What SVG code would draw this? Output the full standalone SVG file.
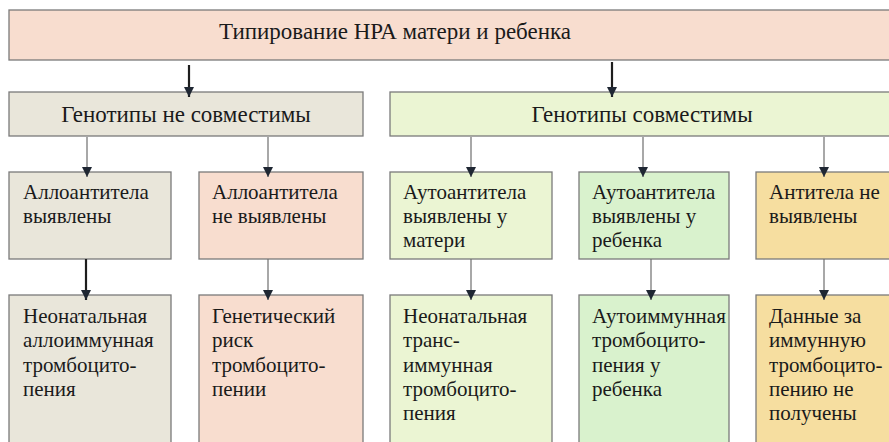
<svg xmlns="http://www.w3.org/2000/svg" width="889" height="442" viewBox="0 0 889 442">
<style>
  .box{stroke:#7a7a7a;stroke-width:1.3}
  .t{font-family:'Liberation Serif',serif;font-size:21px;fill:#1a1a1a}
  .h{font-family:'Liberation Serif',serif;font-size:23px;fill:#1a1a1a;text-anchor:middle}
  .thin{stroke:#6e6e6e;stroke-width:1.2;fill:none}
  .thick{stroke:#1e1e1e;stroke-width:2.2;fill:none}
</style>
<defs>
  <marker id="ah" viewBox="0 0 10 10" refX="10" refY="5" markerUnits="userSpaceOnUse" markerWidth="10" markerHeight="11" orient="auto">
    <path d="M0,0 L10,5 L0,10 z" fill="#1f2733"/>
  </marker>
</defs>
<rect width="889" height="442" fill="#ffffff"/>
<g id="top">
  <rect class="box" x="9" y="10" width="900" height="50" fill="#f8ddcf"/>
  <text class="h" x="395" y="39">Типирование НРА матери и ребенка</text>
</g>
<g id="geno-incompat">
  <rect class="box" x="9" y="92" width="354" height="44" fill="#e9e6da"/>
  <text class="h" x="186" y="122">Генотипы не совместимы</text>
</g>
<g id="geno-compat">
  <rect class="box" x="390" y="92" width="520" height="44" fill="#ebf5d3"/>
  <text class="h" x="642" y="122">Генотипы совместимы</text>
</g>
<g id="allo-found">
  <rect class="box" x="9" y="172" width="162" height="87" fill="#e9e6da"/>
  <text class="t" x="23" y="199">Аллоантитела<tspan x="23" dy="24">выявлены</tspan></text>
</g>
<g id="allo-notfound">
  <rect class="box" x="199" y="172" width="164" height="87" fill="#f8ddcf"/>
  <text class="t" x="212" y="199">Аллоантитела<tspan x="212" dy="24">не выявлены</tspan></text>
</g>
<g id="auto-mother">
  <rect class="box" x="390" y="172" width="162" height="87" fill="#ebf5d3"/>
  <text class="t" x="403" y="199">Аутоантитела<tspan x="403" dy="24">выявлены у</tspan><tspan x="403" dy="24">матери</tspan></text>
</g>
<g id="auto-child">
  <rect class="box" x="579" y="172" width="150" height="87" fill="#d9f2cd"/>
  <text class="t" x="592" y="199">Аутоантитела<tspan x="592" dy="24">выявлены у</tspan><tspan x="592" dy="24">ребенка</tspan></text>
</g>
<g id="ab-none">
  <rect class="box" x="756" y="172" width="150" height="87" fill="#f6dea0"/>
  <text class="t" x="769" y="199">Антитела не<tspan x="769" dy="24">выявлены</tspan></text>
</g>
<g id="nait">
  <rect class="box" x="9" y="295" width="162" height="160" fill="#e9e6da"/>
  <text class="t" x="23" y="323">Неонатальная<tspan x="23" dy="24.3">аллоиммунная</tspan><tspan x="23" dy="24.3">тромбоцито-</tspan><tspan x="23" dy="24.3">пения</tspan></text>
</g>
<g id="genetic-risk">
  <rect class="box" x="199" y="295" width="164" height="160" fill="#f8ddcf"/>
  <text class="t" x="212" y="323">Генетический<tspan x="212" dy="24.3">риск</tspan><tspan x="212" dy="24.3">тромбоцито-</tspan><tspan x="212" dy="24.3">пении</tspan></text>
</g>
<g id="trans-immune">
  <rect class="box" x="390" y="295" width="162" height="160" fill="#ebf5d3"/>
  <text class="t" x="403" y="323">Неонатальная<tspan x="403" dy="24.3">транс-</tspan><tspan x="403" dy="24.3">иммунная</tspan><tspan x="403" dy="24.3">тромбоцито-</tspan><tspan x="403" dy="24.3">пения</tspan></text>
</g>
<g id="autoimmune">
  <rect class="box" x="579" y="295" width="150" height="160" fill="#d9f2cd"/>
  <text class="t" x="592" y="323">Аутоиммунная<tspan x="592" dy="24.3">тромбоцито-</tspan><tspan x="592" dy="24.3">пения у</tspan><tspan x="592" dy="24.3">ребенка</tspan></text>
</g>
<g id="no-data">
  <rect class="box" x="756" y="295" width="150" height="160" fill="#f6dea0"/>
  <text class="t" x="769" y="323">Данные за<tspan x="769" dy="24.3">иммунную</tspan><tspan x="769" dy="24.3">тромбоцито-</tspan><tspan x="769" dy="24.3">пению не</tspan><tspan x="769" dy="24.3">получены</tspan></text>
</g>
<g id="connectors">
  <line class="thick" x1="189" y1="65" x2="189" y2="97" marker-end="url(#ah)"/>
  <line class="thick" x1="612" y1="62" x2="612" y2="97" marker-end="url(#ah)"/>
  <line class="thin" x1="87" y1="137" x2="87" y2="177" marker-end="url(#ah)"/>
  <line class="thin" x1="268" y1="137" x2="268" y2="177" marker-end="url(#ah)"/>
  <line class="thin" x1="471" y1="137" x2="471" y2="177" marker-end="url(#ah)"/>
  <line class="thin" x1="643" y1="137" x2="643" y2="177" marker-end="url(#ah)"/>
  <line class="thin" x1="824" y1="137" x2="824" y2="177" marker-end="url(#ah)"/>
  <line class="thick" x1="86" y1="259" x2="86" y2="300" marker-end="url(#ah)"/>
  <line class="thin" x1="268" y1="259" x2="268" y2="300" marker-end="url(#ah)"/>
  <line class="thin" x1="471" y1="259" x2="471" y2="300" marker-end="url(#ah)"/>
  <line class="thin" x1="651" y1="259" x2="651" y2="300" marker-end="url(#ah)"/>
  <line class="thin" x1="824" y1="259" x2="824" y2="300" marker-end="url(#ah)"/>
</g>
</svg>
